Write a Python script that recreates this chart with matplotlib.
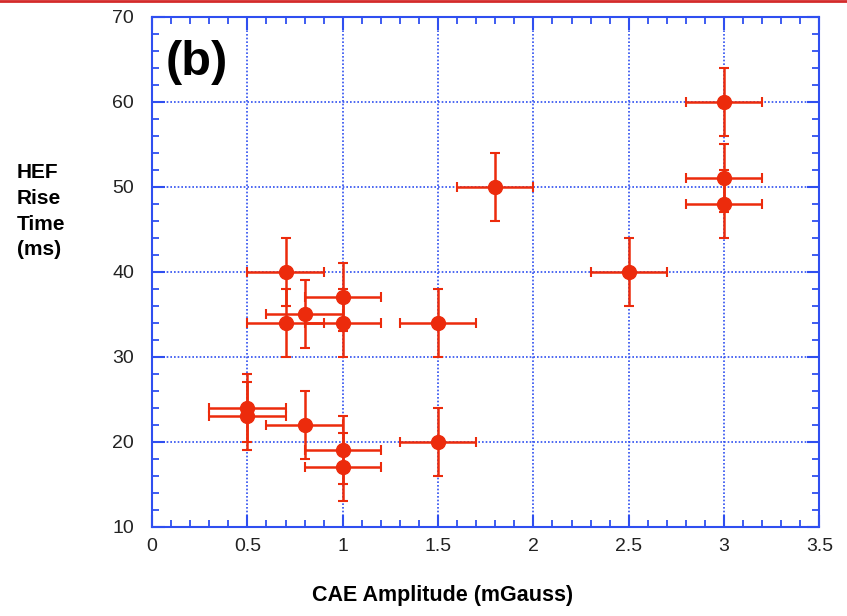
import matplotlib
matplotlib.use('Agg')
import matplotlib.pyplot as plt
from matplotlib.ticker import MultipleLocator
from matplotlib.lines import Line2D

# CAE amplitude vs HEF rise time, with error bars
amp = [3.0, 3.0, 3.0, 1.8, 2.5, 0.7, 1.0, 0.8, 0.7, 1.0, 1.5, 0.5, 0.5, 0.8, 1.5, 1.0, 1.0]
rise = [60, 51, 48, 50, 40, 40, 37, 35, 34, 34, 34, 24, 23, 22, 20, 19, 17]
amp_err = [0.2] * len(amp)
rise_err = [4] * len(rise)

red = '#ec2b0c'
blue = '#2f4ff0'

plt.rcParams['font.family'] = ['Liberation Sans', 'DejaVu Sans']

fig = plt.figure(figsize=(8.47, 6.16), dpi=100)
ax = fig.add_axes([0.1795, 0.1445, 0.788, 0.828])

ax.errorbar(amp, rise, xerr=amp_err, yerr=rise_err, fmt='o', color=red,
            ecolor=red, elinewidth=1.8, capsize=3.5, capthick=1.5,
            markersize=10, zorder=5)

ax.set_xlim(0, 3.5)
ax.set_ylim(10, 70)
ax.xaxis.set_minor_locator(MultipleLocator(0.1))
ax.yaxis.set_major_locator(MultipleLocator(10))
ax.yaxis.set_minor_locator(MultipleLocator(2))
ax.set_xticks([0, 0.5, 1, 1.5, 2, 2.5, 3, 3.5])
ax.set_xticklabels(['0', '0.5', '1', '1.5', '2', '2.5', '3', '3.5'])

ax.grid(True, which='major', color=blue, linestyle=(0, (1, 1.2)), linewidth=1.2)
for s in ax.spines.values():
    s.set_color(blue)
    s.set_linewidth(1.5)
ax.tick_params(which='both', direction='in', top=True, right=True, color=blue,
               labelsize=14, labelcolor='#222222')
ax.tick_params(which='major', length=9, width=1.5)
ax.tick_params(which='minor', length=5, width=1.3)
ax.tick_params(axis='x', which='major', pad=8)
ax.tick_params(axis='y', which='major', pad=13)

ax.text(0.02, 0.955, '(b)', transform=ax.transAxes, fontsize=35,
        fontweight='bold', va='top', ha='left')

fig.text(0.02, 0.657, 'HEF\nRise\nTime\n(ms)', fontsize=15, fontweight='bold',
         ha='left', va='center', linespacing=1.45)
fig.text(0.5224, 0.034, 'CAE Amplitude (mGauss)', fontsize=15.5,
         fontweight='bold', ha='center', va='center')

# thin red rule along the top edge
fig.add_artist(Line2D([0, 1], [0.998, 0.998], color='#d42a2a', linewidth=2,
                      transform=fig.transFigure))

fig.savefig('out.png', dpi=100)
